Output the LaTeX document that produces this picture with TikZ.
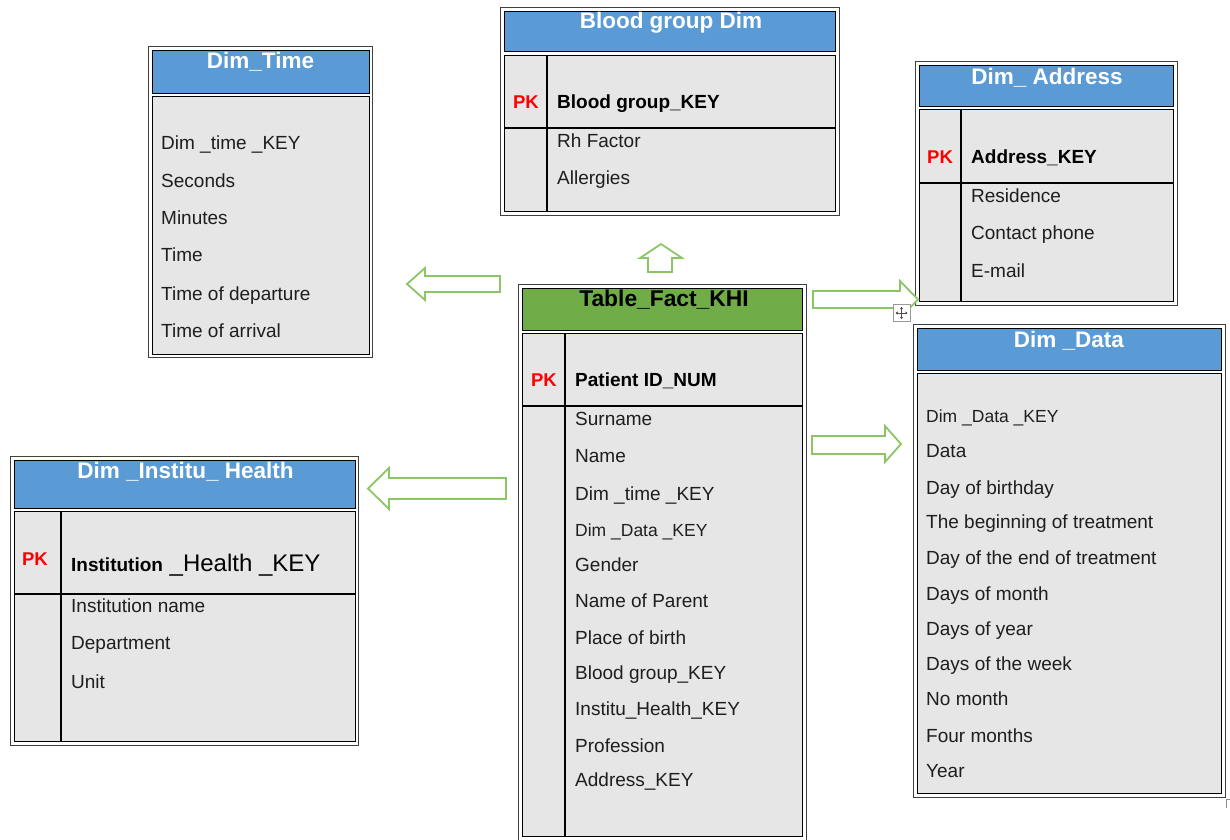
\documentclass[tikz,border=0pt]{standalone}
\usepackage{fontspec}
\setmainfont{Liberation Sans}
\usetikzlibrary{arrows.meta}
\definecolor{hblue}{RGB}{91,155,213}
\definecolor{hgreen}{RGB}{112,173,71}
\definecolor{bgray}{RGB}{230,230,230}
\definecolor{agreen}{RGB}{138,197,102}
\definecolor{txt}{RGB}{30,30,30}
\begin{document}
\begin{tikzpicture}[x=1pt,y=-1pt,
  frame/.style={draw=black!75, line width=0.9pt, fill=white, anchor=north west, inner sep=0pt},
  hdr/.style={draw=black, line width=1.4pt, fill=hblue, anchor=north west, inner sep=0pt},
  hdrg/.style={draw=black, line width=1.4pt, fill=hgreen, anchor=north west, inner sep=0pt},
  bodyb/.style={draw=black, line width=1.4pt, fill=bgray, anchor=north west, inner sep=0pt},
  grid/.style={draw=black, line width=1.2pt},
  ttl/.style={font=\bfseries\fontsize{22.5}{24}\selectfont, text=white, anchor=base, inner sep=0pt},
  fld/.style={font=\fontsize{19}{22}\selectfont, text=txt, anchor=base west, inner sep=0pt},
  sfld/.style={font=\fontsize{17.5}{20}\selectfont, text=txt, anchor=base west, inner sep=0pt},
  keyf/.style={font=\bfseries\fontsize{19}{22}\selectfont, text=black, anchor=base west, inner sep=0pt},
  pk/.style={font=\bfseries\fontsize{18.5}{20}\selectfont, text=red, anchor=base, inner sep=0pt},
  barrow/.style={draw=agreen, line width=1.8pt, fill=white, line join=miter}
]
\useasboundingbox (0,0) rectangle (1230,839);

% ---------- Dim_Time ----------
\node[frame, minimum width=224pt, minimum height=311pt] (timeO) at (148,46) {};
\node[hdr, minimum width=217pt, minimum height=43pt] (timeH) at (152,50) {};
\node[bodyb, minimum width=217pt, minimum height=258pt] (timeB) at (152,96) {};
\node[ttl] (timeT) at (260.5,68) {Dim\_Time};
\node[fld] (time1) at (161,149) {Dim \_time \_KEY};
\node[fld] (time2) at (161,187) {Seconds};
\node[fld] (time3) at (161,224) {Minutes};
\node[fld] (time4) at (161,261) {Time};
\node[fld] (time5) at (161,300) {Time of departure};
\node[fld] (time6) at (161,337) {Time of arrival};

% ---------- Blood group Dim ----------
\node[frame, minimum width=339pt, minimum height=208pt] (bloodO) at (500,7) {};
\node[hdr, minimum width=331pt, minimum height=40pt] (bloodH) at (504,11) {};
\node[bodyb, minimum width=331pt, minimum height=156pt] (bloodB) at (504,55) {};
\draw[grid] (547,55) -- (547,211);
\draw[grid] (504,128) -- (835,128);
\node[ttl] (bloodT) at (671,28) {Blood group Dim};
\node[pk] (bloodPK) at (526,108) {PK};
\node[keyf] (blood1) at (557,108) {Blood group\_KEY};
\node[fld] (blood2) at (557,147) {Rh Factor};
\node[fld] (blood3) at (557,184) {Allergies};

% ---------- Dim_ Address ----------
\node[frame, minimum width=262pt, minimum height=244pt] (addrO) at (915,61) {};
\node[hdr, minimum width=254pt, minimum height=41pt] (addrH) at (919,65) {};
\node[bodyb, minimum width=254pt, minimum height=192pt] (addrB) at (919,109) {};
\draw[grid] (961,109) -- (961,301);
\draw[grid] (919,183) -- (1173,183);
\node[ttl] (addrT) at (1047,84) {Dim\_ Address};
\node[pk] (addrPK) at (940,163) {PK};
\node[keyf] (addr1) at (971,163) {Address\_KEY};
\node[fld] (addr2) at (971,202) {Residence};
\node[fld] (addr3) at (971,239) {Contact phone};
\node[fld] (addr4) at (971,277) {E-mail};

% ---------- Table_Fact_KHI ----------
\node[frame, minimum width=288pt, minimum height=556pt] (factO) at (518,284) {};
\node[hdrg, minimum width=280pt, minimum height=42pt] (factH) at (522,288) {};
\node[bodyb, minimum width=280pt, minimum height=503pt] (factB) at (522,333) {};
\draw[grid] (565,333) -- (565,836);
\draw[grid] (522,406) -- (802,406);
\node[font=\bfseries\fontsize{22.8}{26}\selectfont, text=black, anchor=base, inner sep=0pt] (factT) at (664,306) {Table\_Fact\_KHI};
\node[pk] (factPK) at (544,386) {PK};
\node[keyf] (fact0) at (575,386) {Patient ID\_NUM};
\node[fld] (fact1) at (575,425) {Surname};
\node[fld] (fact2) at (575,462) {Name};
\node[fld] (fact3) at (575,500) {Dim \_time \_KEY};
\node[sfld] (fact4) at (575,536) {Dim \_Data \_KEY};
\node[fld] (fact5) at (575,571) {Gender};
\node[fld] (fact6) at (575,607) {Name of Parent};
\node[fld] (fact7) at (575,644) {Place of birth};
\node[fld] (fact8) at (575,679) {Blood group\_KEY};
\node[fld] (fact9) at (575,715) {Institu\_Health\_KEY};
\node[fld] (fact10) at (575,752) {Profession};
\node[fld] (fact11) at (575,786) {Address\_KEY};

% ---------- Dim _Data ----------
\node[frame, minimum width=312pt, minimum height=473pt] (dataO) at (913,324) {};
\node[hdr, minimum width=304pt, minimum height=42pt] (dataH) at (917,328) {};
\node[bodyb, minimum width=304pt, minimum height=420pt] (dataB) at (917,373) {};
\node[ttl] (dataT) at (1069,347) {Dim \_Data};
\node[sfld] (data1) at (926,422) {Dim \_Data \_KEY};
\node[fld] (data2) at (926,457) {Data};
\node[fld] (data3) at (926,494) {Day of birthday};
\node[fld] (data4) at (926,528) {The beginning of treatment};
\node[fld] (data5) at (926,564) {Day of the end of treatment};
\node[fld] (data6) at (926,600) {Days of month};
\node[fld] (data7) at (926,635) {Days of year};
\node[fld] (data8) at (926,670) {Days of the week};
\node[fld] (data9) at (926,705) {No month};
\node[fld] (data10) at (926,742) {Four months};
\node[fld] (data11) at (926,777) {Year};

% ---------- Dim _Institu_ Health ----------
\node[frame, minimum width=348pt, minimum height=289pt] (instO) at (10,456) {};
\node[hdr, minimum width=341pt, minimum height=48pt] (instH) at (14,460) {};
\node[bodyb, minimum width=341pt, minimum height=230pt] (instB) at (14,511) {};
\draw[grid] (61,511) -- (61,741);
\draw[grid] (14,594) -- (355,594);
\node[ttl] (instT) at (185.5,478) {Dim \_Institu\_ Health};
\node[pk] (instPK) at (35,565) {PK};
\node[keyf] (inst1) at (71,571) {Institution\fontsize{24}{26}\selectfont\mdseries{} \_Health \_KEY};
\node[fld] (inst2) at (71,612) {Institution name};
\node[fld] (inst3) at (71,649) {Department};
\node[fld] (inst4) at (71,688) {Unit};

% ---------- block arrows ----------
\draw[barrow] (500,276) -- (425,276) -- (425,268) -- (407,284) -- (425,300) -- (425,292) -- (500,292) -- cycle;
\draw[barrow] (648,272) -- (648,258) -- (640,258) -- (661,244) -- (682,258) -- (672,258) -- (672,272) -- cycle;
\draw[barrow] (813,291) -- (900,291) -- (900,281) -- (918,299.5) -- (900,318) -- (900,308) -- (813,308) -- cycle;
\draw[barrow] (812,436) -- (885,436) -- (885,426) -- (901,444) -- (885,462) -- (885,454) -- (812,454) -- cycle;
\draw[barrow] (506,478) -- (389,478) -- (389,468) -- (368,488.5) -- (389,509) -- (389,499) -- (506,499) -- cycle;

% ---------- move handle ----------
\node[draw=black!40, line width=0.9pt, fill=white, minimum size=17pt, inner sep=0pt] (mv) at (901.5,313) {};
\draw[black!70, line width=0.7pt, {Triangle[length=2pt,width=3pt]}-{Triangle[length=2pt,width=3pt]}] (mv.center) ++(-6,0) -- ++(12,0);
\draw[black!70, line width=0.7pt, {Triangle[length=2pt,width=3pt]}-{Triangle[length=2pt,width=3pt]}] (mv.center) ++(0,-6) -- ++(0,12);
\draw[black!45, line width=0.8pt] (1230,799) -- (1226,799) -- (1226,808);
\end{tikzpicture}
\end{document}
